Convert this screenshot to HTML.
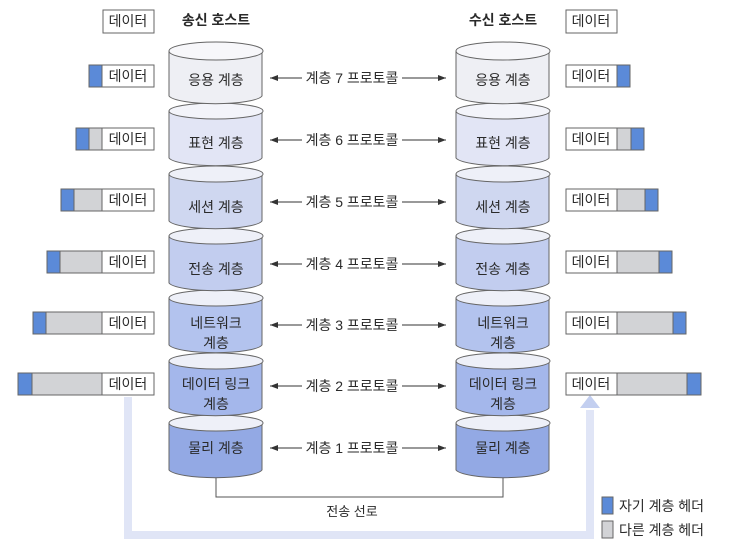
<!DOCTYPE html>
<html><head><meta charset="utf-8"><style>
html,body{margin:0;padding:0;background:#fff}
svg{display:block}
text{font-family:"Liberation Sans","Noto Sans CJK KR",sans-serif;fill:#2a2a2a}
</style></head><body>
<svg width="730" height="545" viewBox="0 0 730 545" xmlns="http://www.w3.org/2000/svg">
<defs>
<linearGradient id="bl" x1="0" y1="1" x2="0" y2="0"><stop offset="0" stop-color="#e4e8f7"/><stop offset="1" stop-color="#c3cff0"/></linearGradient>
</defs>

<path d="M128,397 V535 H590 V410" fill="none" stroke="#e0e5f6" stroke-width="8"/>
<path d="M590,400 V410" stroke="url(#bl)" stroke-width="8"/>
<polygon points="580,408 600,408 590,395" fill="#c3cff0"/>

<path d="M216,470 V497 H503 V470" fill="none" stroke="#555" stroke-width="1"/>
<text x="352" y="516" font-size="13" text-anchor="middle">전송 선로</text>

<text x="216" y="25" font-size="14" font-weight="bold" text-anchor="middle">송신 호스트</text>
<text x="503" y="25" font-size="14" font-weight="bold" text-anchor="middle">수신 호스트</text>

<g stroke="#666" stroke-width="1">
<g>
<path d="M169,423 V470 A47,9 0 0 0 262,470 V423" fill="#93a9e4"/><ellipse cx="216" cy="423" rx="47" ry="8" fill="#eef0f8"/>
<path d="M169,361 V408 A47,9 0 0 0 262,408 V361" fill="#a4b7eb"/><ellipse cx="216" cy="361" rx="47" ry="8" fill="#eef0f8"/>
<path d="M169,298 V345 A47,9 0 0 0 262,345 V298" fill="#b3c3ee"/><ellipse cx="216" cy="298" rx="47" ry="8" fill="#eef0f8"/>
<path d="M169,236 V283 A47,9 0 0 0 262,283 V236" fill="#c2cdef"/><ellipse cx="216" cy="236" rx="47" ry="8" fill="#eef0f8"/>
<path d="M169,174 V221 A47,9 0 0 0 262,221 V174" fill="#cfd7f0"/><ellipse cx="216" cy="174" rx="47" ry="8" fill="#eef0f8"/>
<path d="M169,111 V158 A47,9 0 0 0 262,158 V111" fill="#e2e5f5"/><ellipse cx="216" cy="111" rx="47" ry="8" fill="#f3f4fa"/>
<path d="M169,51 V96 A47,9 0 0 0 262,96 V51" fill="#eeeff4"/><ellipse cx="216" cy="51" rx="47" ry="9" fill="#f7f7fa"/>
</g>
<g transform="translate(287,0)">
<path d="M169,423 V470 A47,9 0 0 0 262,470 V423" fill="#93a9e4"/><ellipse cx="216" cy="423" rx="47" ry="8" fill="#eef0f8"/>
<path d="M169,361 V408 A47,9 0 0 0 262,408 V361" fill="#a4b7eb"/><ellipse cx="216" cy="361" rx="47" ry="8" fill="#eef0f8"/>
<path d="M169,298 V345 A47,9 0 0 0 262,345 V298" fill="#b3c3ee"/><ellipse cx="216" cy="298" rx="47" ry="8" fill="#eef0f8"/>
<path d="M169,236 V283 A47,9 0 0 0 262,283 V236" fill="#c2cdef"/><ellipse cx="216" cy="236" rx="47" ry="8" fill="#eef0f8"/>
<path d="M169,174 V221 A47,9 0 0 0 262,221 V174" fill="#cfd7f0"/><ellipse cx="216" cy="174" rx="47" ry="8" fill="#eef0f8"/>
<path d="M169,111 V158 A47,9 0 0 0 262,158 V111" fill="#e2e5f5"/><ellipse cx="216" cy="111" rx="47" ry="8" fill="#f3f4fa"/>
<path d="M169,51 V96 A47,9 0 0 0 262,96 V51" fill="#eeeff4"/><ellipse cx="216" cy="51" rx="47" ry="9" fill="#f7f7fa"/>
</g>
</g>

<g font-size="14" text-anchor="middle">
<text x="216" y="85">응용 계층</text><text x="503" y="85">응용 계층</text>
<text x="216" y="148">표현 계층</text><text x="503" y="148">표현 계층</text>
<text x="216" y="212">세션 계층</text><text x="503" y="212">세션 계층</text>
<text x="216" y="274">전송 계층</text><text x="503" y="274">전송 계층</text>
<text x="216" y="328">네트워크</text><text x="216" y="348">계층</text>
<text x="503" y="328">네트워크</text><text x="503" y="348">계층</text>
<text x="216" y="389">데이터 링크</text><text x="216" y="409">계층</text>
<text x="503" y="389">데이터 링크</text><text x="503" y="409">계층</text>
<text x="216" y="453">물리 계층</text><text x="503" y="453">물리 계층</text>
</g>

<g stroke="#333" stroke-width="1">
<path d="M270,78 H302 M402,78 H446 M270,140 H302 M402,140 H446 M270,202 H302 M402,202 H446 M270,264 H302 M402,264 H446 M270,325 H302 M402,325 H446 M270,386 H302 M402,386 H446 M270,448 H302 M402,448 H446"/>
</g>
<g fill="#333">
<path d="M270,78 l8,-3 v6z M446,78 l-8,-3 v6z M270,140 l8,-3 v6z M446,140 l-8,-3 v6z M270,202 l8,-3 v6z M446,202 l-8,-3 v6z M270,264 l8,-3 v6z M446,264 l-8,-3 v6z M270,325 l8,-3 v6z M446,325 l-8,-3 v6z M270,386 l8,-3 v6z M446,386 l-8,-3 v6z M270,448 l8,-3 v6z M446,448 l-8,-3 v6z"/>
</g>
<g font-size="14" text-anchor="middle">
<text x="352" y="83">계층 7 프로토콜</text>
<text x="352" y="145">계층 6 프로토콜</text>
<text x="352" y="207">계층 5 프로토콜</text>
<text x="352" y="269">계층 4 프로토콜</text>
<text x="352" y="330">계층 3 프로토콜</text>
<text x="352" y="391">계층 2 프로토콜</text>
<text x="352" y="453">계층 1 프로토콜</text>
</g>

<g stroke="#666" stroke-width="1">
<rect x="103" y="10" width="51" height="23" fill="#fff"/>
<rect x="89" y="65" width="13" height="22" fill="#5b8ad8"/><rect x="102" y="65" width="52" height="22" fill="#fff"/>
<rect x="76" y="128" width="13" height="22" fill="#5b8ad8"/><rect x="89" y="128" width="13" height="22" fill="#d2d3d6"/><rect x="102" y="128" width="52" height="22" fill="#fff"/>
<rect x="61" y="189" width="13" height="22" fill="#5b8ad8"/><rect x="74" y="189" width="28" height="22" fill="#d2d3d6"/><rect x="102" y="189" width="52" height="22" fill="#fff"/>
<rect x="47" y="251" width="13" height="22" fill="#5b8ad8"/><rect x="60" y="251" width="42" height="22" fill="#d2d3d6"/><rect x="102" y="251" width="52" height="22" fill="#fff"/>
<rect x="33" y="312" width="13" height="22" fill="#5b8ad8"/><rect x="46" y="312" width="56" height="22" fill="#d2d3d6"/><rect x="102" y="312" width="52" height="22" fill="#fff"/>
<rect x="18" y="373" width="14" height="22" fill="#5b8ad8"/><rect x="32" y="373" width="70" height="22" fill="#d2d3d6"/><rect x="102" y="373" width="52" height="22" fill="#fff"/>
</g>
<g font-size="14" text-anchor="middle">
<text x="128" y="26">데이터</text><text x="128" y="81">데이터</text><text x="128" y="144">데이터</text>
<text x="128" y="205">데이터</text><text x="128" y="267">데이터</text><text x="128" y="328">데이터</text><text x="128" y="389">데이터</text>
</g>

<g stroke="#666" stroke-width="1">
<rect x="566" y="10" width="51" height="23" fill="#fff"/>
<rect x="566" y="65" width="51" height="22" fill="#fff"/><rect x="617" y="65" width="13" height="22" fill="#5b8ad8"/>
<rect x="566" y="128" width="51" height="22" fill="#fff"/><rect x="617" y="128" width="14" height="22" fill="#d2d3d6"/><rect x="631" y="128" width="13" height="22" fill="#5b8ad8"/>
<rect x="566" y="189" width="51" height="22" fill="#fff"/><rect x="617" y="189" width="28" height="22" fill="#d2d3d6"/><rect x="645" y="189" width="13" height="22" fill="#5b8ad8"/>
<rect x="566" y="251" width="51" height="22" fill="#fff"/><rect x="617" y="251" width="42" height="22" fill="#d2d3d6"/><rect x="659" y="251" width="13" height="22" fill="#5b8ad8"/>
<rect x="566" y="312" width="51" height="22" fill="#fff"/><rect x="617" y="312" width="56" height="22" fill="#d2d3d6"/><rect x="673" y="312" width="13" height="22" fill="#5b8ad8"/>
<rect x="566" y="373" width="51" height="22" fill="#fff"/><rect x="617" y="373" width="70" height="22" fill="#d2d3d6"/><rect x="687" y="373" width="14" height="22" fill="#5b8ad8"/>
</g>
<g font-size="14" text-anchor="middle">
<text x="591" y="26">데이터</text><text x="591" y="81">데이터</text><text x="591" y="144">데이터</text>
<text x="591" y="205">데이터</text><text x="591" y="267">데이터</text><text x="591" y="328">데이터</text><text x="591" y="389">데이터</text>
</g>

<rect x="602" y="497" width="11" height="17" fill="#5b8ad8" stroke="#666"/>
<rect x="602" y="521" width="11" height="17" fill="#d2d3d6" stroke="#666"/>
<g font-size="14"><text x="619" y="511">자기 계층 헤더</text><text x="619" y="535">다른 계층 헤더</text></g>
</svg>
</body></html>
